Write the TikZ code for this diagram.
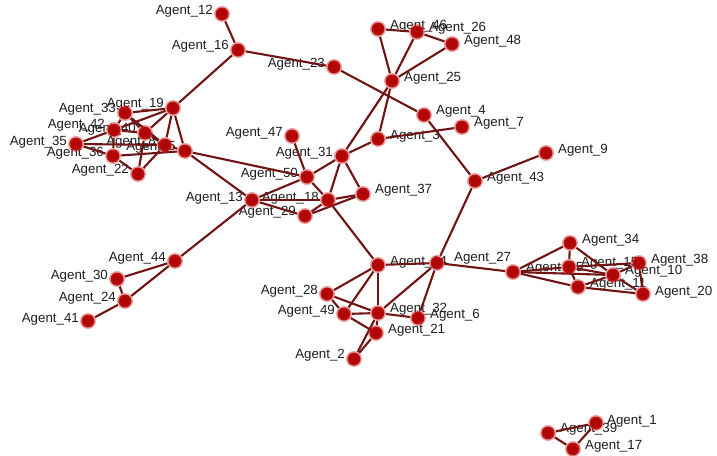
\documentclass[tikz,border=0pt]{standalone}
\usepackage{fontspec}
\setmainfont{Liberation Sans}
\pgfdeclarelayer{labels}
\pgfdeclarelayer{edges}
\pgfsetlayers{labels,edges,main}
\definecolor{nodered}{RGB}{176,6,6}
\definecolor{halo}{RGB}{200,30,30}
\definecolor{edgered}{RGB}{112,20,20}
\tikzset{
  agent/.style={circle, inner sep=0pt, minimum size=13pt, fill=nodered,
                draw=halo, draw opacity=0.4, line width=3pt},
  tie/.style={draw=edgered, line width=2.1pt},
  lab/.style={font=\fontsize{13.3}{15}\selectfont, inner sep=0pt, text=black!88},
}
\begin{document}
\begin{tikzpicture}[x=1pt,y=-1pt]
\useasboundingbox (0,0) rectangle (717,455);
\begin{pgfonlayer}{labels}
  \fill[white] (0,0) rectangle (717,455);
\end{pgfonlayer}

% agents whose name sits on the left
\foreach \n/\x/\y/\d in {
  12/222/14/-3, 16/238/50/-4, 23/334/67/-3, 47/292/136/-3, 31/342/156/-3,
  50/307/177/-3, 13/252/200/-2, 18/328/200/-2, 29/305/216/-4, 44/175/261/-3,
  30/117/279/-3, 24/125/301/-3, 41/88/321/-2, 28/327/294/-3, 49/344/314/-3,
  2/354/359/-4, 33/125/113/-4, 19/173/108/-4, 42/114/130/-5, 40/145/133/-4,
  35/76/144/-2, 36/113/156/-3, 22/138/174/-4, 8/165/145/-3, 5/185/151/-4}
{
  \node[agent] (a\n) at (\x,\y) {};
  \begin{pgfonlayer}{labels}
    \node[lab, anchor=east] (t\n) at ({\x-9},{\y+(\d)}) {Agent\_\n};
  \end{pgfonlayer}
}

% agents whose name sits on the right
\foreach \n/\x/\y/\d/\s in {
  46/378/29/-3/12, 26/417/32/-4/12, 48/452/44/-3/12, 25/392/81/-3/12,
  4/424/115/-4/12, 7/462/127/-4/12, 3/378/139/-3/12, 37/363/194/-4/12,
  43/475/181/-3/12, 9/546/153/-3/12, 14/378/265/-3/12, 27/437/263/-5/17,
  32/378/313/-4/12, 6/418/318/-3/12, 21/376/333/-3/12, 45/513/272/-4/13,
  34/570/243/-3/12, 15/569/267/-4/12, 38/639/263/-3/12, 10/613/275/-4/12,
  11/578/287/-3/12, 20/643/294/-2/12, 1/596/423/-2/11, 39/548/433/-4/12,
  17/573/449/-3/12}
{
  \node[agent] (a\n) at (\x,\y) {};
  \begin{pgfonlayer}{labels}
    \node[lab, anchor=west] (t\n) at ({\x+\s},{\y+(\d)}) {Agent\_\n};
  \end{pgfonlayer}
}

% ties between agents
\begin{pgfonlayer}{edges}
\foreach \a/\b in {
  12/16, 16/23, 16/19, 23/4, 4/43, 43/9, 43/27,
  46/26, 26/48, 46/25, 26/25, 48/25, 25/3, 25/31, 3/7, 3/31,
  31/50, 31/18, 31/37, 47/50, 5/50, 50/18, 18/14, 13/18, 13/29,
  29/18, 29/37, 18/37, 13/44, 13/50, 5/13,
  44/24, 44/30, 30/24, 24/41,
  14/27, 27/45, 14/28, 14/49, 14/32, 28/49, 28/32, 49/32, 49/21,
  32/21, 32/6, 27/32, 27/6, 21/2, 32/2,
  45/34, 45/15, 45/10, 45/11, 34/15, 34/10, 15/38, 15/11, 15/10,
  38/10, 38/20, 10/20, 10/11, 11/20,
  1/39, 39/17, 17/1,
  33/19, 33/42, 33/40, 33/8, 19/42, 19/40, 19/8, 19/5, 42/40, 42/35,
  42/36, 40/8, 40/22, 35/8, 35/36, 36/5, 36/22, 22/8, 8/5}
{
  \draw[tie] (a\a) -- (a\b);
}
\end{pgfonlayer}
\end{tikzpicture}
\end{document}
